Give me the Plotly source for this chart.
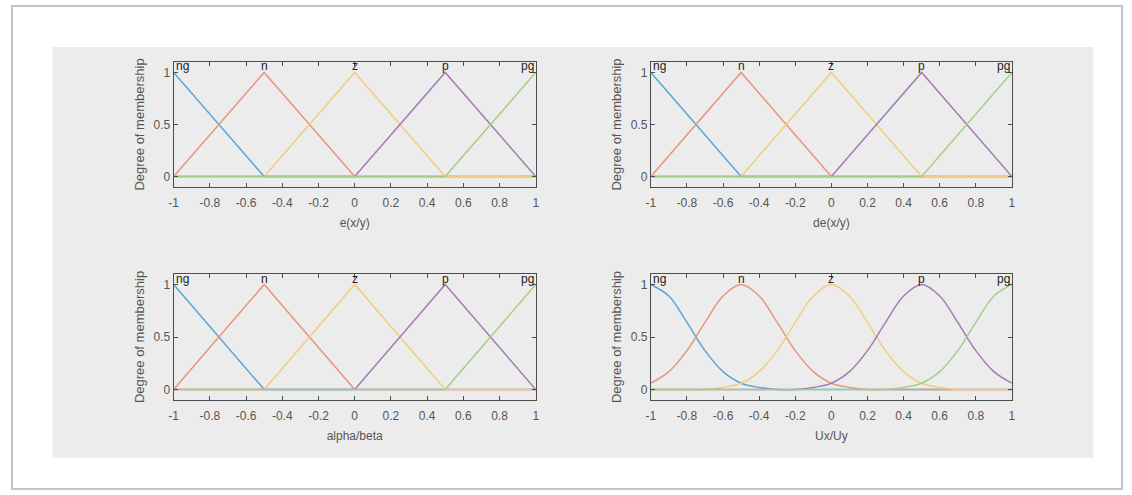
import plotly.graph_objects as go

W, H = 1132, 495

# ---------------- data ----------------
mf_names = ["ng", "n", "z", "p", "pg"]
mf_centers = [-1.0, -0.5, 0.0, 0.5, 1.0]
mf_colors = ["#5aa6d6", "#e8957c", "#f2cd7c", "#a47bb5", "#a8cd84"]

# triangular membership functions (vertices)
tri_x = {
    "ng": [-1.0, -0.5, 1.0],
    "n": [-1.0, -0.5, 0.0, 1.0],
    "z": [-1.0, -0.5, 0.0, 0.5, 1.0],
    "p": [-1.0, 0.0, 0.5, 1.0],
    "pg": [-1.0, 0.5, 1.0],
}
tri_y = {
    "ng": [1.0, 0.0, 0.0],
    "n": [0.0, 1.0, 0.0, 0.0],
    "z": [0.0, 0.0, 1.0, 0.0, 0.0],
    "p": [0.0, 0.0, 1.0, 0.0],
    "pg": [0.0, 0.0, 1.0],
}

# gaussian-shaped output MFs, values read at x = -1, -0.9, ..., 1
gx = [-1.0, -0.9, -0.8, -0.7, -0.6, -0.5, -0.4, -0.3, -0.2, -0.1, 0.0,
      0.1, 0.2, 0.3, 0.4, 0.5, 0.6, 0.7, 0.8, 0.9, 1.0]
gauss_y = {
    "ng": [1.00, 0.89, 0.64, 0.37, 0.17, 0.06, 0.02, 0.00, 0.00, 0.00, 0.00,
           0.00, 0.00, 0.00, 0.00, 0.00, 0.00, 0.00, 0.00, 0.00, 0.00],
    "n": [0.06, 0.17, 0.37, 0.64, 0.89, 1.00, 0.89, 0.64, 0.37, 0.17, 0.06,
          0.02, 0.00, 0.00, 0.00, 0.00, 0.00, 0.00, 0.00, 0.00, 0.00],
    "z": [0.00, 0.00, 0.00, 0.00, 0.02, 0.06, 0.17, 0.37, 0.64, 0.89, 1.00,
          0.89, 0.64, 0.37, 0.17, 0.06, 0.02, 0.00, 0.00, 0.00, 0.00],
    "p": [0.00, 0.00, 0.00, 0.00, 0.00, 0.00, 0.00, 0.00, 0.00, 0.02, 0.06,
          0.17, 0.37, 0.64, 0.89, 1.00, 0.89, 0.64, 0.37, 0.17, 0.06],
    "pg": [0.00, 0.00, 0.00, 0.00, 0.00, 0.00, 0.00, 0.00, 0.00, 0.00, 0.00,
           0.00, 0.00, 0.00, 0.02, 0.06, 0.17, 0.37, 0.64, 0.89, 1.00],
}

x_titles = ["e(x/y)", "de(x/y)", "alpha/beta", "Ux/Uy"]
y_title = "Degree of membership"
x_tickvals = [-1, -0.8, -0.6, -0.4, -0.2, 0, 0.2, 0.4, 0.6, 0.8, 1]
x_ticktext = ["-1", "-0.8", "-0.6", "-0.4", "-0.2", "0", "0.2", "0.4", "0.6", "0.8", "1"]
y_tickvals = [0, 0.5, 1]
y_ticktext = ["0", "0.5", "1"]

# ---------------- layout helpers ----------------
# plot boxes in pixels: (left, right, top, bottom)
boxes = [(170, 535, 62, 187), (651, 1015, 62, 187),
         (170, 535, 274, 400), (651, 1015, 274, 400)]

FONT = "Liberation Sans Narrow, Arial Narrow, Liberation Sans, Arial, sans-serif"

fig = go.Figure()
layout = dict(
    width=W, height=H, margin=dict(l=0, r=0, t=0, b=0),
    paper_bgcolor="white", plot_bgcolor="white", showlegend=False,
    font=dict(family=FONT, color="#555555", size=12),
)

annotations = []
for i, (l, r, t, b) in enumerate(boxes):
    k = "" if i == 0 else str(i + 1)
    xa, ya = "x" + k, "y" + k
    for j, nm in enumerate(mf_names):
        if i < 3:
            xs, ys, shape = tri_x[nm], tri_y[nm], "linear"
        else:
            xs, ys, shape = gx, gauss_y[nm], "spline"
        fig.add_trace(go.Scatter(x=xs, y=ys, mode="lines", xaxis=xa, yaxis=ya,
                                 line=dict(color=mf_colors[j], width=1.5, shape=shape),
                                 hoverinfo="skip"))
        anchor = "left" if j == 0 else ("right" if j == len(mf_names) - 1 else "center")
        annotations.append(dict(x=mf_centers[j], y=1.0, xref=xa, yref=ya, text=nm,
                                showarrow=False, xanchor=anchor, yanchor="bottom",
                                yshift=-3, font=dict(family=FONT, size=12, color="#222222")))
    layout["xaxis" + k] = dict(
        domain=[l / W, r / W], anchor=ya, range=[-1, 1],
        tickvals=x_tickvals, ticktext=x_ticktext, ticks="inside", ticklen=4,
        tickcolor="#4d4d4d", showline=True, linecolor="#4d4d4d", linewidth=1,
        mirror="ticks", showgrid=False, zeroline=False, ticklabelstandoff=5,
        tickfont=dict(size=12, color="#555555"),
        title=dict(text=x_titles[i], standoff=9, font=dict(size=12, color="#555555")),
    )
    layout["yaxis" + k] = dict(
        domain=[1 - b / H, 1 - t / H], anchor=xa, range=[-0.1, 1.1],
        tickvals=y_tickvals, ticktext=y_ticktext, ticks="inside", ticklen=4,
        tickcolor="#4d4d4d", showline=True, linecolor="#4d4d4d", linewidth=1,
        mirror="ticks", showgrid=False, zeroline=False,
        tickfont=dict(size=12, color="#555555"),
        title=dict(text=y_title, standoff=6, font=dict(size=13, color="#555555")),
    )

shapes = [
    # outer frame
    dict(type="rect", xref="paper", yref="paper", x0=7 / W, x1=1126 / W,
         y0=1 - 489 / H, y1=1 - 6 / H, line=dict(color="#c4c4c4", width=2),
         fillcolor="white", layer="below"),
    # gray panel
    dict(type="rect", xref="paper", yref="paper", x0=48 / W, x1=1097 / W,
         y0=1 - 458 / H, y1=1 - 47 / H, line=dict(width=0),
         fillcolor="#ececec", layer="below"),
]
layout["shapes"] = shapes
layout["annotations"] = annotations
fig.update_layout(**layout)
fig.write_html("out.html",
               config={"displayModeBar": False},
               post_script="document.body.style.margin='0';document.body.style.overflow='hidden';")
